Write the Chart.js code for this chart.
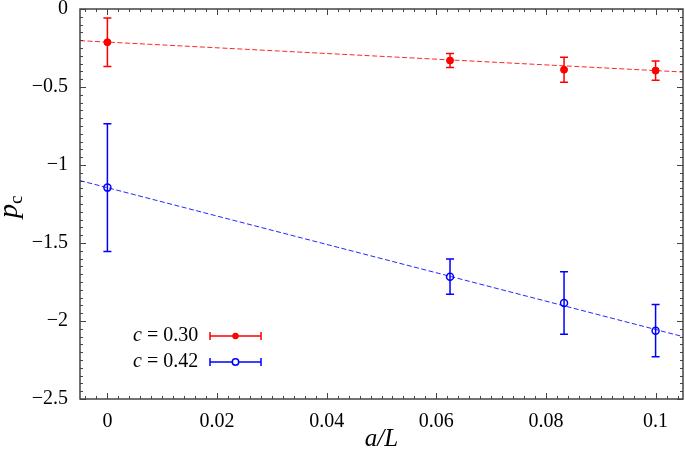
<!DOCTYPE html>
<html>
<head>
<meta charset="utf-8">
<script src="https://cdn.jsdelivr.net/npm/chart.js@4"></script>
<style>
  html, body { margin: 0; padding: 0; background: #fff; overflow: hidden; }
  #wrap { width: 685px; height: 458px; }
</style>
</head>
<body>
<div id="wrap"><canvas id="chart"></canvas></div>
<script>
// data
const xValues = [0, 0.0625, 0.0833, 0.1];
const redY = [-0.213, -0.330, -0.389, -0.395];
const redErr = [0.155, 0.045, 0.08, 0.062];
const blueY = [-1.145, -1.716, -1.885, -2.062];
const blueErr = [0.41, 0.113, 0.2, 0.167];
const fitX = [-0.005, 0.105];
const redFit = [-0.203, -0.404];
const blueFit = [-1.10, -2.10];
const xTicks = [0, 0.02, 0.04, 0.06, 0.08, 0.1];
const yTicks = [0, -0.5, -1, -1.5, -2, -2.5];
const seriesValues = ['0.30', '0.42'];

const RED = '#ff0000';
const BLUE = '#0000ff';
const FONT = '"Liberation Serif", "DejaVu Serif", serif';

function pts(xs, ys) {
    return xs.map((x, i) => ({ x: x, y: ys[i] }));
}

function fmt(v) {
    return v < 0 ? '\u2212' + String(Math.abs(v)) : String(v);
}

const errorBars = {
    id: 'errorBars',
    afterDatasetsDraw(chart) {
        const ctx = chart.ctx;
        const yScale = chart.scales.y;
        chart.data.datasets.forEach((ds, i) => {
            if (!ds.errors) return;
            const meta = chart.getDatasetMeta(i);
            ctx.save();
            ctx.strokeStyle = ds.borderColor;
            ctx.lineWidth = 1.5;
            meta.data.forEach((el, j) => {
                const v = ds.data[j].y;
                const e = ds.errors[j];
                const top = yScale.getPixelForValue(v + e);
                const bot = yScale.getPixelForValue(v - e);
                ctx.beginPath();
                ctx.moveTo(el.x, top);
                ctx.lineTo(el.x, bot);
                ctx.moveTo(el.x - 4, top);
                ctx.lineTo(el.x + 4, top);
                ctx.moveTo(el.x - 4, bot);
                ctx.lineTo(el.x + 4, bot);
                ctx.stroke();
            });
            ctx.restore();
        });
    }
};

const frame = {
    id: 'frame',
    afterDraw(chart) {
        const ctx = chart.ctx;
        const a = chart.chartArea;
        const xs = chart.scales.x;
        const ys = chart.scales.y;
        ctx.save();
        ctx.strokeStyle = '#444';
        ctx.lineWidth = 1;
        ctx.beginPath();
        // x ticks, bottom and top
        for (let k = -2; k <= 52; k++) {
            const v = k * 0.002;
            if (v < xs.min || v > xs.max) continue;
            const px = Math.round(xs.getPixelForValue(v)) + 0.5;
            const len = k % 10 === 0 ? 6 : 3;
            ctx.moveTo(px, a.bottom); ctx.lineTo(px, a.bottom - len);
            ctx.moveTo(px, a.top); ctx.lineTo(px, a.top + len);
        }
        // y ticks, left and right
        for (let k = 0; k <= 50; k++) {
            const v = -k * 0.05;
            const py = Math.round(ys.getPixelForValue(v)) + 0.5;
            const len = k % 10 === 0 ? 6 : 3;
            ctx.moveTo(a.left, py); ctx.lineTo(a.left + len, py);
            ctx.moveTo(a.right, py); ctx.lineTo(a.right - len, py);
        }
        ctx.stroke();
        ctx.lineWidth = 1.5;
        ctx.strokeRect(a.left, a.top, a.right - a.left, a.bottom - a.top);

        // axis titles
        ctx.fillStyle = '#000';
        ctx.textBaseline = 'alphabetic';
        ctx.font = 'italic 25px ' + FONT;
        ctx.textAlign = 'center';
        const cx = (a.left + a.right) / 2;
        ctx.fillText('a/L', cx, 446);

        ctx.save();
        ctx.translate(17, 218);
        ctx.rotate(-Math.PI / 2);
        ctx.textAlign = 'left';
        ctx.font = 'italic 28px ' + FONT;
        ctx.fillText('p', 0, 0);
        const pw = ctx.measureText('p').width;
        ctx.font = '19px ' + FONT;
        ctx.fillText('c', pw, 5);
        ctx.restore();

        // legend
        const rows = [
            { c: RED, v: seriesValues[0], y: 336, filled: true },
            { c: BLUE, v: seriesValues[1], y: 362, filled: false }
        ];
        rows.forEach(r => {
            ctx.fillStyle = '#000';
            ctx.textAlign = 'left';
            ctx.textBaseline = 'middle';
            ctx.font = 'italic 20px ' + FONT;
            ctx.fillText('c', 133, r.y);
            const cw = ctx.measureText('c').width;
            ctx.font = '20px ' + FONT;
            ctx.fillText(' = ' + r.v, 133 + cw, r.y);
            ctx.strokeStyle = r.c;
            ctx.lineWidth = 1.5;
            ctx.beginPath();
            ctx.moveTo(210, r.y); ctx.lineTo(261, r.y);
            ctx.moveTo(210, r.y - 4); ctx.lineTo(210, r.y + 4);
            ctx.moveTo(261, r.y - 4); ctx.lineTo(261, r.y + 4);
            ctx.stroke();
            ctx.beginPath();
            ctx.arc(235.5, r.y, 3.2, 0, Math.PI * 2);
            if (r.filled) { ctx.fillStyle = r.c; ctx.fill(); }
            else { ctx.fillStyle = '#fff'; ctx.fill(); ctx.stroke(); }
        });
        ctx.restore();
    }
};

new Chart(document.getElementById('chart'), {
    type: 'scatter',
    data: {
        datasets: [
            {
                data: pts(fitX, redFit), showLine: true, pointRadius: 0,
                borderColor: 'rgba(255,0,0,0.85)', borderWidth: 1, borderDash: [5, 2.5]
            },
            {
                data: pts(fitX, blueFit), showLine: true, pointRadius: 0,
                borderColor: 'rgba(0,0,255,0.85)', borderWidth: 1, borderDash: [5, 2.5]
            },
            {
                data: pts(xValues, redY), errors: redErr,
                borderColor: RED, backgroundColor: RED,
                pointRadius: 3.5, pointBorderWidth: 1
            },
            {
                data: pts(xValues, blueY), errors: blueErr,
                borderColor: BLUE, backgroundColor: 'rgba(0,0,0,0)',
                pointRadius: 3.5, pointBorderWidth: 1.5
            }
        ]
    },
    options: {
        responsive: true,
        maintainAspectRatio: false,
        animation: false,
        events: [],
        layout: { autoPadding: false, padding: { top: 9, right: 2, left: 0, bottom: 0 } },
        plugins: { legend: { display: false }, tooltip: { enabled: false } },
        scales: {
            x: {
                type: 'linear', min: -0.005, max: 0.105,
                afterBuildTicks: s => { s.ticks = xTicks.map(v => ({ value: v })); },
                afterFit: s => { s.height = 59; s.paddingLeft = 0; s.paddingRight = 0; },
                grid: { display: false, drawTicks: false },
                border: { display: false },
                ticks: {
                    color: '#000', padding: 11,
                    font: { family: FONT, size: 20 },
                    callback: v => fmt(v), maxRotation: 0, autoSkip: false
                }
            },
            y: {
                type: 'linear', min: -2.5, max: 0,
                afterBuildTicks: s => { s.ticks = yTicks.map(v => ({ value: v })); },
                afterFit: s => { s.width = 80; s.paddingTop = 0; s.paddingBottom = 0; },
                grid: { display: false, drawTicks: false },
                border: { display: false },
                ticks: {
                    color: '#000', padding: 12,
                    font: { family: FONT, size: 20 },
                    callback: v => fmt(v)
                }
            }
        }
    },
    plugins: [errorBars, frame]
});
</script>
</body>
</html>
